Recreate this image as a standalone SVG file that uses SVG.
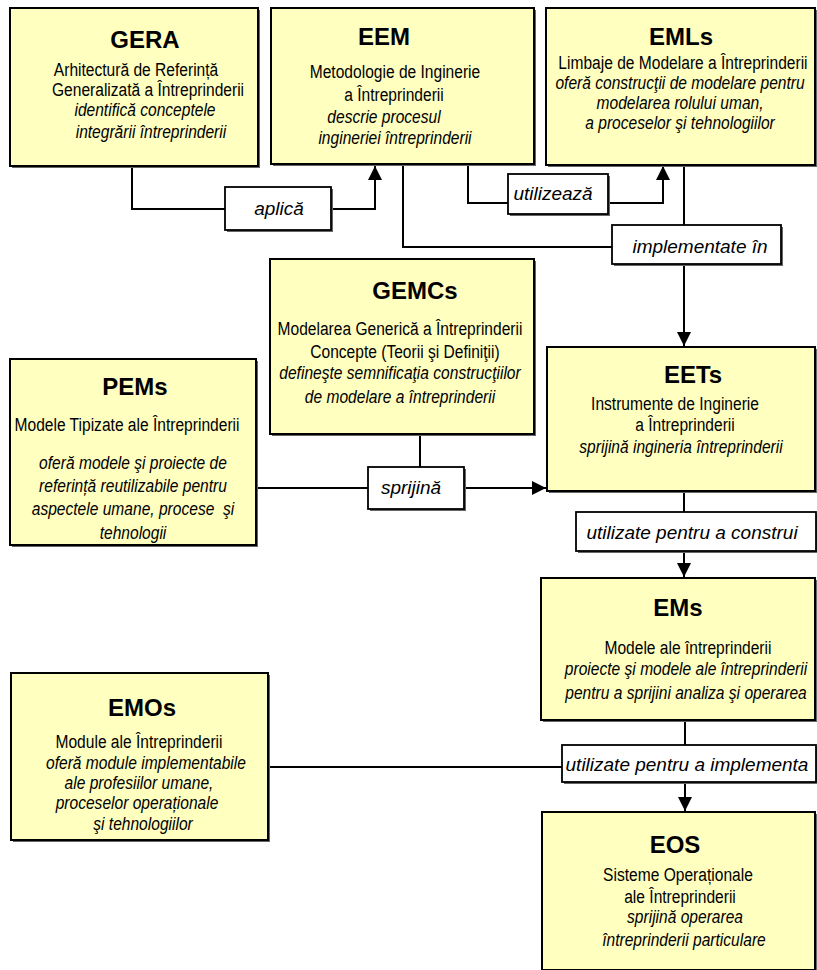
<svg xmlns="http://www.w3.org/2000/svg" width="817" height="970" viewBox="0 0 817 970">
<defs>
<style>
.box{fill:#FFFFC0;stroke:#000;stroke-width:2}
.lbl{fill:#fff;stroke:#000;stroke-width:1.8}
.sh{fill:#666;stroke:none}
.t{font-family:"Liberation Sans",Arial,sans-serif;font-weight:bold;font-size:24px;text-anchor:middle;fill:#000}
.b{font-family:"Liberation Sans",Arial,sans-serif;font-size:19px;text-anchor:middle;fill:#000}
.i{font-style:italic}
.l{font-family:"Liberation Sans",Arial,sans-serif;font-style:italic;font-size:19px;text-anchor:middle;fill:#000}
.c{fill:none;stroke:#000;stroke-width:2}
</style>
<marker id="ar" markerUnits="userSpaceOnUse" markerWidth="16" markerHeight="16" refX="14" refY="7" orient="auto">
<path d="M0,0 L14,7 L0,14 z" fill="#000"/>
</marker>
</defs>
<rect width="817" height="970" fill="#fff"/>

<g id="connectors">
<path class="c" d="M132,166 V209 H225"/>
<path class="c" d="M331,209 H375 V166" marker-end="url(#ar)"/>
<path class="c" d="M403,164 V247 H612"/>
<path class="c" d="M468,164 V203 H508"/>
<path class="c" d="M608,203 H663 V166" marker-end="url(#ar)"/>
<path class="c" d="M684,165 V225"/>
<path class="c" d="M684,264 V346" marker-end="url(#ar)"/>
<path class="c" d="M420,434 V467"/>
<path class="c" d="M256,488 H368"/>
<path class="c" d="M464,488 H546" marker-end="url(#ar)"/>
<path class="c" d="M684,491 V512"/>
<path class="c" d="M684,551 V577" marker-end="url(#ar)"/>
<path class="c" d="M685,720 V745"/>
<path class="c" d="M685,782 V811" marker-end="url(#ar)"/>
<path class="c" d="M268,767 H562"/>

<g id="lbl-aplica">
<rect class="sh" x="227" y="189" width="106" height="43"/>
<rect class="lbl" x="225" y="187" width="106" height="43"/>
<text class="l" x="279" y="215">aplică</text>
</g>
<g id="lbl-utilizeaza">
<rect class="sh" x="510" y="176" width="100" height="40"/>
<rect class="lbl" x="508" y="174" width="100" height="40"/>
<text class="l" x="553" y="200">utilizează</text>
</g>
<g id="lbl-implementate">
<rect class="sh" x="614" y="227" width="169" height="39"/>
<rect class="lbl" x="612" y="225" width="169" height="39"/>
<text class="l" x="700" y="253">implementate în</text>
</g>
<g id="lbl-sprijina">
<rect class="sh" x="370" y="469" width="96" height="42"/>
<rect class="lbl" x="368" y="467" width="96" height="42"/>
<text class="l" x="411" y="494">sprijină</text>
</g>
<g id="lbl-construi">
<rect class="sh" x="578" y="514" width="240" height="39"/>
<rect class="lbl" x="576" y="512" width="240" height="39"/>
<text class="l" x="692" y="539">utilizate pentru a construi</text>
</g>
<g id="lbl-implementa">
<rect class="sh" x="564" y="747" width="254" height="37"/>
<rect class="lbl" x="562" y="745" width="254" height="37"/>
<text class="l" x="687" y="771">utilizate pentru a implementa</text>
</g>
</g>

<g id="GERA">
<rect class="sh" x="12" y="10" width="248" height="158"/>
<rect class="box" x="10" y="8" width="248" height="158"/>
<text class="t" x="145" y="48">GERA</text>
<g transform="scale(0.82,1)">
<text class="b" x="165.9" y="76">Arhitectură de Referință</text>
<text class="b" x="180.5" y="96">Generalizată a Întreprinderii</text>
<text class="b i" x="176.8" y="116">identifică conceptele</text>
<text class="b i" x="184.1" y="138">integrării întreprinderii</text>
</g>
</g>

<g id="EEM">
<rect class="sh" x="273" y="10" width="263" height="156"/>
<rect class="box" x="271" y="8" width="263" height="156"/>
<text class="t" x="384" y="45">EEM</text>
<g transform="scale(0.82,1)">
<text class="b" x="481.7" y="78">Metodologie de Inginerie</text>
<text class="b" x="480.5" y="101">a Întreprinderii</text>
<text class="b i" x="468.3" y="123">descrie procesul</text>
<text class="b i" x="481.7" y="144">ingineriei întreprinderii</text>
</g>
</g>

<g id="EMLs">
<rect class="sh" x="548" y="10" width="269" height="157"/>
<rect class="box" x="546" y="8" width="269" height="157"/>
<text class="t" x="681" y="45">EMLs</text>
<g transform="scale(0.82,1)">
<text class="b" x="832.9" y="69">Limbaje de Modelare a Întreprinderii</text>
<text class="b i" x="829.3" y="89">oferă construcţii de modelare pentru</text>
<text class="b i" x="829.3" y="109">modelarea rolului uman,</text>
<text class="b i" x="829.3" y="129">a proceselor şi tehnologiilor</text>
</g>
</g>

<g id="GEMCs">
<rect class="sh" x="272" y="261" width="264" height="175"/>
<rect class="box" x="270" y="259" width="264" height="175"/>
<text class="t" x="415" y="299">GEMCs</text>
<g transform="scale(0.82,1)">
<text class="b" x="487.8" y="335">Modelarea Generică a Întreprinderii</text>
<text class="b" x="493.9" y="358">Concepte (Teorii şi Definiţii)</text>
<text class="b i" x="487.8" y="379">defineşte semnificaţia construcţiilor</text>
<text class="b i" x="487.8" y="403">de modelare a întreprinderii</text>
</g>
</g>

<g id="PEMs">
<rect class="sh" x="12" y="361" width="246" height="186"/>
<rect class="box" x="10" y="359" width="246" height="186"/>
<text class="t" x="135" y="395">PEMs</text>
<g transform="scale(0.82,1)">
<text class="b" x="154.9" y="431">Modele Tipizate ale Întreprinderii</text>
<text class="b i" x="162.2" y="469">oferă modele şi proiecte de</text>
<text class="b i" x="162.2" y="492">referință reutilizabile pentru</text>
<text class="b i" x="162.2" y="515" xml:space="preserve">aspectele umane, procese  şi</text>
<text class="b i" x="162.2" y="539">tehnologii</text>
</g>
</g>

<g id="EETs">
<rect class="sh" x="549" y="349" width="268" height="144"/>
<rect class="box" x="547" y="347" width="268" height="144"/>
<text class="t" x="693" y="383">EETs</text>
<g transform="scale(0.82,1)">
<text class="b" x="823.2" y="410">Instrumente de Inginerie</text>
<text class="b" x="835.4" y="431">a Întreprinderii</text>
<text class="b i" x="830.5" y="453">sprijină ingineria întreprinderii</text>
</g>
</g>

<g id="EMs">
<rect class="sh" x="543" y="580" width="274" height="142"/>
<rect class="box" x="541" y="578" width="274" height="142"/>
<text class="t" x="678" y="616">EMs</text>
<g transform="scale(0.82,1)">
<text class="b" x="839.0" y="654">Modele ale întreprinderii</text>
<text class="b i" x="836.6" y="675">proiecte şi modele ale întreprinderii</text>
<text class="b i" x="836.6" y="699">pentru a sprijini analiza şi operarea</text>
</g>
</g>

<g id="EMOs">
<rect class="sh" x="13" y="675" width="257" height="167"/>
<rect class="box" x="11" y="673" width="257" height="167"/>
<text class="t" x="142" y="716">EMOs</text>
<g transform="scale(0.82,1)">
<text class="b" x="169.5" y="748">Module ale Întreprinderii</text>
<text class="b i" x="178.0" y="769">oferă module implementabile</text>
<text class="b i" x="169.5" y="789">ale profesiilor umane,</text>
<text class="b i" x="167.1" y="809">proceselor operaționale</text>
<text class="b i" x="174.4" y="830">şi tehnologiilor</text>
</g>
</g>

<g id="EOS">
<rect class="sh" x="544" y="814" width="273" height="158"/>
<rect class="box" x="542" y="812" width="273" height="158"/>
<text class="t" x="675" y="853">EOS</text>
<g transform="scale(0.82,1)">
<text class="b" x="826.8" y="881">Sisteme Operaționale</text>
<text class="b" x="829.3" y="903">ale Întreprinderii</text>
<text class="b i" x="835.4" y="923">sprijină operarea</text>
<text class="b i" x="834.1" y="946">întreprinderii particulare</text>
</g>
</g>
</svg>
